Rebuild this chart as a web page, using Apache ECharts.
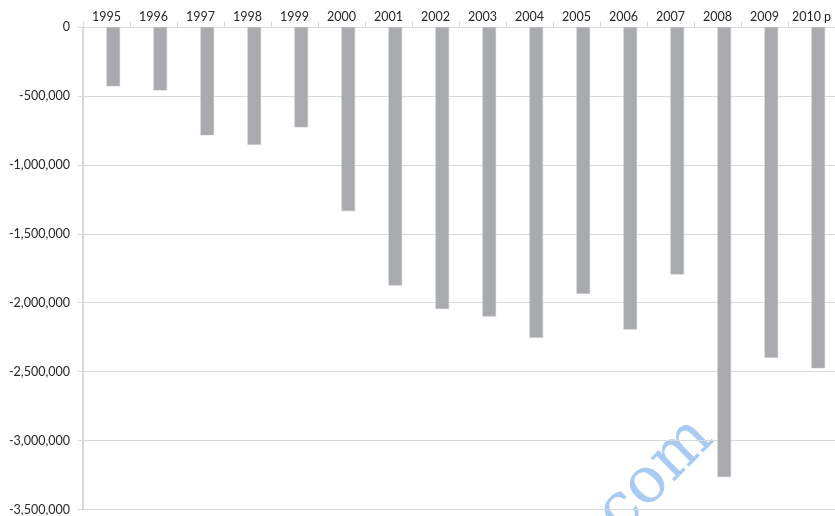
<!DOCTYPE html>
<html>
<head>
<meta charset="utf-8">
<script src="https://cdn.jsdelivr.net/npm/echarts@6/dist/echarts.min.js"></script>
<style>
  html, body { margin: 0; padding: 0; background: #fff; }
  #chart { width: 835px; height: 516px; }
</style>
</head>
<body>
<div id="chart"></div>
<script>
const years = ["1995", "1996", "1997", "1998", "1999", "2000", "2001", "2002",
  "2003", "2004", "2005", "2006", "2007", "2008", "2009", "2010 p"];
const balances = [-430000, -460000, -785000, -855000, -728000, -1335000, -1875000, -2045000,
  -2100000, -2255000, -1935000, -2195000, -1795000, -3265000, -2400000, -2475000];
// the source sheet has an empty first series, which pushes the bars right of centre
const emptySeries = [];

const chart = echarts.init(document.getElementById("chart"));

const option = {
  animation: false,
  grid: { left: 83, right: -2, top: 27, bottom: 5 },
  xAxis: {
    type: "category",
    position: "top",
    data: years,
    axisLine: { lineStyle: { color: "#d9d9d9", width: 1 } },
    axisTick: { show: true, length: 5, interval: 0, lineStyle: { color: "#d9d9d9" } },
    axisLabel: { interval: 0, margin: 4, color: "#262626", fontSize: 12.5, fontFamily: "Lato" }
  },
  yAxis: {
    type: "value",
    min: -3500000,
    max: 0,
    interval: 500000,
    axisLine: { show: true, lineStyle: { color: "#d9d9d9", width: 2 } },
    axisTick: { show: true, length: 5, lineStyle: { color: "#d9d9d9" } },
    splitLine: { lineStyle: { color: "#d9d9d9", width: 1 } },
    axisLabel: {
      margin: 13,
      color: "#262626",
      fontSize: 12.5,
      fontFamily: "Lato",
      formatter: (v) => v.toLocaleString("en-US")
    }
  },
  series: [
    {
      type: "bar",
      data: emptySeries,
      barWidth: 13.5,
      barGap: "0%"
    },
    {
      type: "bar",
      data: balances,
      barWidth: 13.5,
      barGap: "0%",
      itemStyle: { color: "#a9aaae", borderColor: "#bfc0c3", borderWidth: 0.5 }
    }
  ],
  graphic: [
    {
      type: "text",
      x: 656,
      y: 476,
      rotation: Math.PI / 4,
      style: {
        text: "com",
        fill: "#a9cbf3",
        font: "64px 'DejaVu Serif'",
        align: "center",
        verticalAlign: "middle"
      }
    }
  ]
};

chart.setOption(option);
window.onresize = function () {
  chart.resize();
};
</script>
</body>
</html>
